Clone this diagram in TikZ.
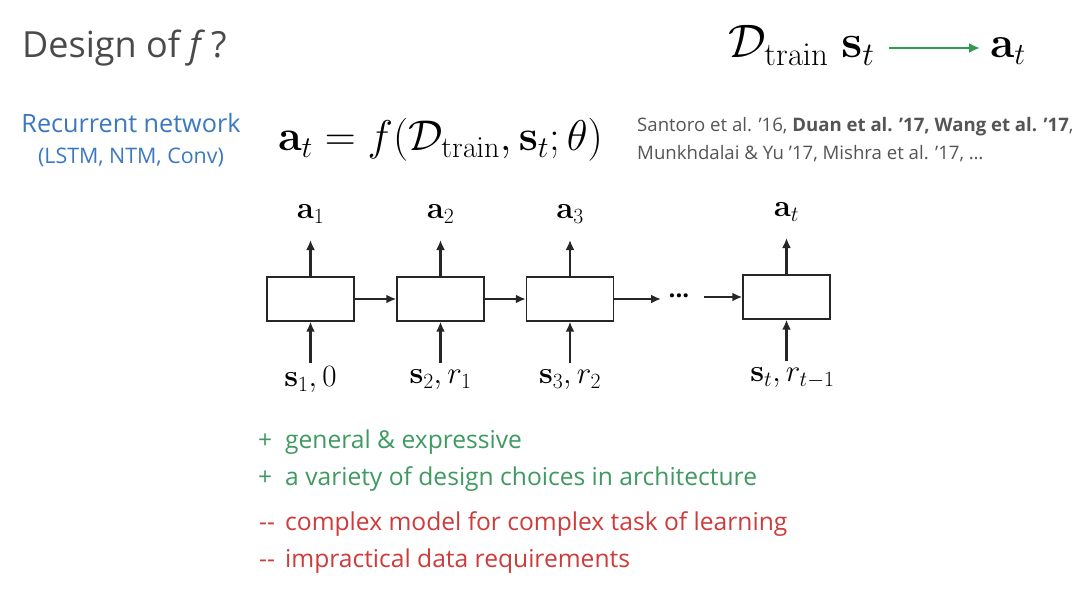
\RequirePackage{fix-cm}
\documentclass[tikz,border=0pt]{standalone}
\usepackage{amsmath,amssymb}
\usepackage[no-math]{fontspec}
\setmainfont{Open Sans}
\usetikzlibrary{arrows.meta}
\definecolor{titlegray}{HTML}{4A4A4A}
\definecolor{citegray}{HTML}{555555}
\definecolor{rnnblue}{HTML}{3B78C0}
\definecolor{arrgreen}{HTML}{2E9A52}
\definecolor{progreen}{HTML}{3F9A62}
\definecolor{conred}{HTML}{CF3A3A}
\tikzset{
  cell/.style={draw=black!85, line width=1.4pt, minimum width=87pt, minimum height=44pt, inner sep=0pt},
  flow/.style={line width=2.4pt, draw=black!85, -{Latex[length=10pt,width=9pt]}},
  lbl/.style={inner sep=2pt, font=\fontsize{31}{34}\selectfont},
  txt/.style={anchor=base west, inner sep=0pt},
}
\begin{document}
\begin{tikzpicture}[x=1pt,y=-1pt]
\useasboundingbox[fill=white] (0,0) rectangle (1080,607);
% title
\node[txt, text=titlegray, font=\fontsize{36}{40}\selectfont] (title) at (22,58) {Design of \textit{f}\,?};
% top right formula
\node[txt, font=\fontsize{47}{50}\selectfont] (dst) at (728,58) {$\mathcal{D}_{\mathrm{train}}\;\mathbf{s}_t$};
\node[txt, font=\fontsize{44}{48}\selectfont] (at) at (990,58) {$\mathbf{a}_t$};
\draw[line width=2.2pt, arrgreen, -{Latex[length=11pt,width=10pt]}] (889,48) -- (980,48);
% left labels
\node[anchor=base, inner sep=0pt, text=rnnblue, font=\fontsize{25.2}{28}\selectfont] (rnn) at (131,133) {Recurrent network};
\node[anchor=base, inner sep=0pt, text=rnnblue, font=\fontsize{21.4}{24}\selectfont] (kinds) at (131,164) {(LSTM, NTM, Conv)};
% main formula
\node[anchor=west, inner sep=0pt, font=\fontsize{43}{48}\selectfont] (eq) at (278,140) {$\mathbf{a}_t = f(\mathcal{D}_{\mathrm{train}}, \mathbf{s}_t; \theta)$};
% citations
\node[txt, text=citegray, font=\fontsize{18.6}{22}\selectfont] (cite1) at (637,132) {Santoro et al. ’16, \textbf{Duan et al. ’17, Wang et al. ’17},};
\node[txt, text=citegray, font=\fontsize{18.6}{22}\selectfont] (cite2) at (637,160) {Munkhdalai \& Yu ’17, Mishra et al. ’17, …};
% cells
\node[cell] (b1) at (310.5,299) {};
\node[cell] (b2) at (440.5,299) {};
\node[cell] (b3) at (570,299) {};
\node[cell] (b4) at (786.5,297) {};
\node[inner sep=0pt, font=\fontsize{24}{28}\selectfont\bfseries] (dots) at (679,296) {...};
\coordinate (d1) at (661,299);
\coordinate (d2) at (704,297);
\draw[flow] (b1.east) -- (b2.west);
\draw[flow] (b2.east) -- (b3.west);
\draw[flow] (b3.east) -- (d1);
\draw[flow] (d2) -- (b4.west);
% outputs
\node[lbl] (a1) at (b1.center |- 0,214) {$\mathbf{a}_1$};
\node[lbl] (a2) at (b2.center |- 0,214) {$\mathbf{a}_2$};
\node[lbl] (a3) at (b3.center |- 0,214) {$\mathbf{a}_3$};
\node[lbl] (a4) at (b4.center |- 0,212) {$\mathbf{a}_t$};
\coordinate (t1) at (b1.center |- 0,240);
\coordinate (t2) at (b2.center |- 0,240);
\coordinate (t3) at (b3.center |- 0,240);
\coordinate (t4) at (b4.center |- 0,238);
\draw[flow] (b1.north) -- (t1);
\draw[flow] (b2.north) -- (t2);
\draw[flow] (b3.north) -- (t3);
\draw[flow] (b4.north) -- (t4);
% inputs
\coordinate (i1) at (b1.center |- 0,363);
\coordinate (i2) at (b2.center |- 0,363);
\coordinate (i3) at (b3.center |- 0,363);
\coordinate (i4) at (b4.center |- 0,361);
\draw[flow] (i1) -- (b1.south);
\draw[flow] (i2) -- (b2.south);
\draw[flow] (i3) -- (b3.south);
\draw[flow] (i4) -- (b4.south);
\node[lbl] (s1) at (b1.center |- 0,380) {$\mathbf{s}_1, 0$};
\node[lbl] (s2) at (b2.center |- 0,380) {$\mathbf{s}_2, r_1$};
\node[lbl] (s3) at (b3.center |- 0,380) {$\mathbf{s}_3, r_2$};
\node[lbl] (s4) at ([xshift=6pt]b4.center |- 0,378) {$\mathbf{s}_t, r_{t-1}$};
% pros and cons
\begin{scope}[font=\fontsize{24.6}{28}\selectfont]
\node[txt, text=progreen] (p1m) at (258,448) {+};
\node[txt, text=progreen] (p1) at (285,448) {general \& expressive};
\node[txt, text=progreen] (p2m) at (258,485) {+};
\node[txt, text=progreen] (p2) at (285,485) {a variety of design choices in architecture};
\node[txt, text=conred] (c1m) at (259,530) {-{}-};
\node[txt, text=conred] (c1) at (285,530) {complex model for complex task of learning};
\node[txt, text=conred] (c2m) at (259,567) {-{}-};
\node[txt, text=conred] (c2) at (285,567) {impractical data requirements};
\end{scope}
\end{tikzpicture}
\end{document}
